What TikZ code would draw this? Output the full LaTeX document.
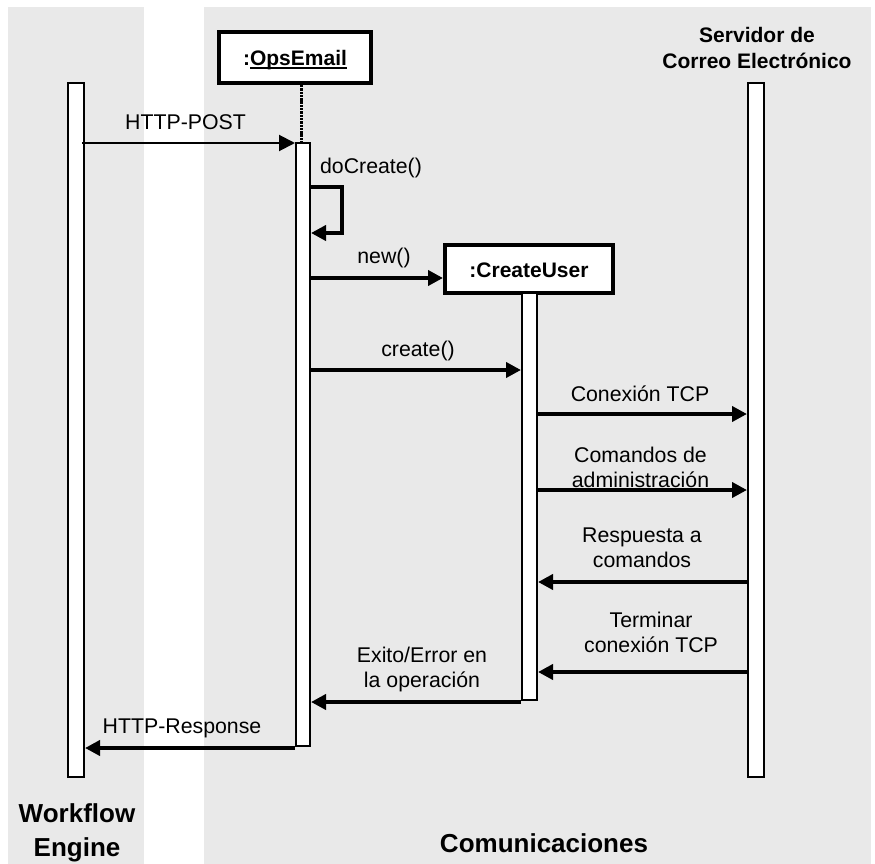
\documentclass[tikz,border=0pt]{standalone}
\usepackage{fontspec}
\setmainfont{Liberation Sans}
\usetikzlibrary{arrows.meta}
\definecolor{panelgray}{RGB}{233,233,233}
% underline set a fixed distance below the baseline
\newcommand{\ulword}[1]{\setbox0\hbox{#1}\rlap{\rule[-3pt]{\wd0}{1.5pt}}\box0}
\begin{document}
\begin{tikzpicture}[x=1pt,y=-1pt,
  lifeline/.style={draw, fill=white, line width=2pt, inner sep=0pt, minimum width=16pt},
  activation/.style={draw, fill=white, line width=2pt, inner sep=0pt, minimum width=14pt},
  objbox/.style={draw, fill=white, line width=4pt, inner sep=0pt, text depth=0pt,
    font=\bfseries\fontsize{21}{25}\selectfont},
  msg/.style={line width=3.8pt, -{Triangle[length=15pt,width=15pt]}},
  thinmsg/.style={line width=2pt, -{Triangle[length=16pt,width=16pt]}},
  lifedots/.style={line width=3pt, black, dash pattern=on 2.4pt off 0.9pt},
  lbl/.style={font=\fontsize{21.3}{25}\selectfont, inner sep=0pt, align=center, anchor=north},
  hdr/.style={font=\bfseries\fontsize{21}{26}\selectfont, inner sep=0pt, align=center, anchor=north},
  title/.style={font=\bfseries\fontsize{26}{34}\selectfont, inner sep=0pt, align=center, anchor=north}]
\useasboundingbox (0,0) rectangle (875,864);

% swimlane panels
\fill[panelgray] (8,7) rectangle (144,864);
\fill[panelgray] (204,7) rectangle (871,864);

% lifelines and activations
\node[lifeline, minimum height=694pt] (wfe) at (76,430) {};
\node[lifeline, minimum height=694pt] (srv) at (756,430) {};
\node[objbox, minimum width=152pt, minimum height=51pt, text height=17pt] (ops) at (295,57.5) {:\ulword{OpsEmail}};
\node[activation, minimum height=603pt] (opsact) at (303,444.5) {};
\draw[lifedots] ([xshift=-2pt]opsact.north |- ops.south) -- ([xshift=-2pt]opsact.north);
\node[objbox, minimum width=168pt, minimum height=48pt, text height=16pt] (cu) at (529,269) {:CreateUser};
\node[activation, minimum width=15pt, minimum height=407pt] (cuact) at (529.5,496.5) {};

% header of the mail server lifeline
\node[hdr] (srvhead) at (757,23.8) {\strut Servidor de\\\strut Correo Electrónico};

% messages
\draw[thinmsg] ([xshift=-3pt]wfe.east |- 0,143) -- (opsact.west |- 0,143);
\node[lbl] (lpost) at (185.5,111.5) {\strut HTTP-POST};

\draw[msg] (opsact.east |- 0,187) -- (342,187) -- (342,233) -- (opsact.east |- 0,233);
\node[lbl] (ldo) at (371,155.5) {\strut doCreate()};

\draw[msg] (opsact.east |- 0,278) -- (cu.west |- 0,278);
\node[lbl] (lnew) at (384,245.5) {\strut new()};

\draw[msg] (opsact.east |- 0,370) -- (cuact.west |- 0,370);
\node[lbl] (lcreate) at (418,338.5) {\strut create()};

\draw[msg] (cuact.east |- 0,414) -- (srv.west |- 0,414);
\node[lbl] (ltcp) at (640,383.5) {\strut Conexión TCP};

\draw[msg] (cuact.east |- 0,490) -- (srv.west |- 0,490);
\node[lbl] (lcmd) at (640.5,444.5) {\strut Comandos de\\\strut administración};

\draw[msg] ([xshift=2pt]srv.west |- 0,582) -- (cuact.east |- 0,582);
\node[lbl] (lresp) at (642,524.5) {\strut Respuesta a\\\strut comandos};

\draw[msg] ([xshift=2pt]srv.west |- 0,672) -- (cuact.east |- 0,672);
\node[lbl] (lend) at (651,609.5) {\strut Terminar\\\strut conexión TCP};

\draw[msg] (cuact.west |- 0,702) -- (opsact.east |- 0,702);
\node[lbl] (lres) at (422,644.5) {\strut Exito/Error en\\\strut la operación};

\draw[msg] (opsact.west |- 0,748) -- (wfe.east |- 0,748);
\node[lbl] (lresp2) at (182,715.5) {\strut HTTP-Response};

% swimlane titles
\node[title] (twfe) at (77,798.2) {\strut Workflow\\\strut Engine};
\node[title] (tcom) at (544,828.2) {\strut Comunicaciones};
\end{tikzpicture}
\end{document}
